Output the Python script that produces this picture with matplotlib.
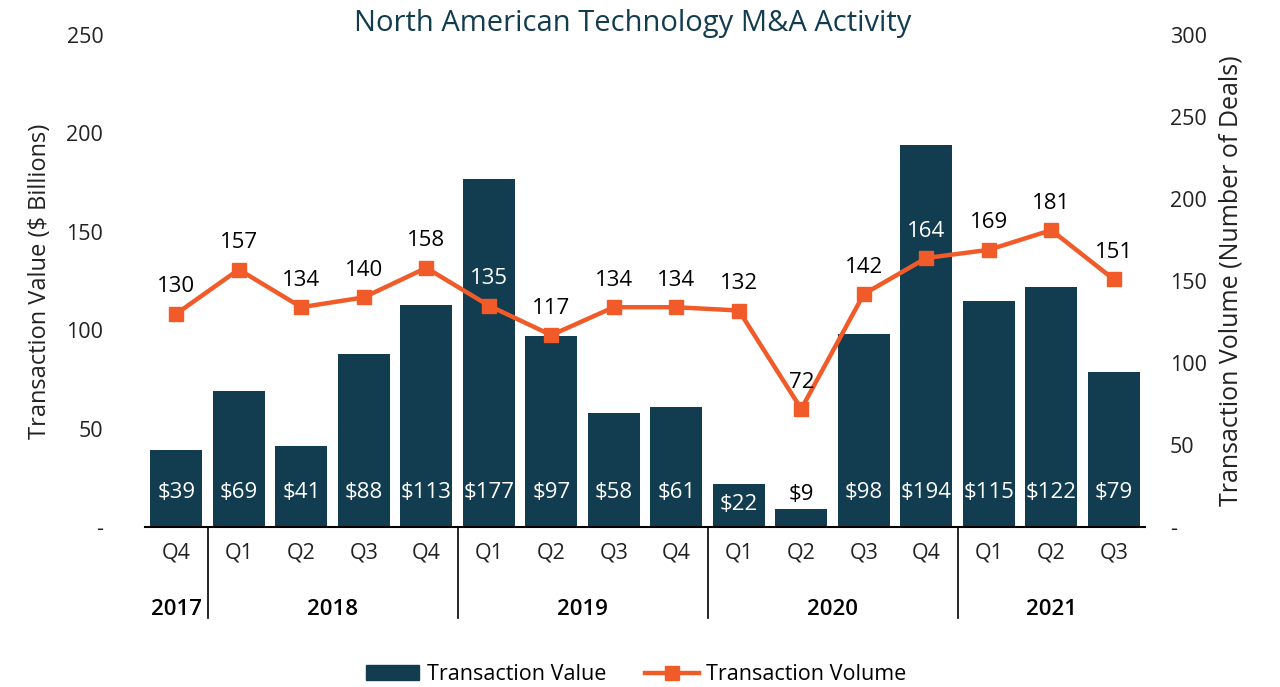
#!/usr/bin/env python3
"""Recreate the North American Technology M&A Activity combo chart."""

import matplotlib
matplotlib.use('Agg')
import matplotlib.pyplot as plt
import matplotlib.transforms as mtransforms
from matplotlib.patches import Patch
from matplotlib.lines import Line2D

plt.rcParams['font.family'] = ['Open Sans', 'DejaVu Sans']

# data
quarters = ['Q4', 'Q1', 'Q2', 'Q3', 'Q4', 'Q1', 'Q2', 'Q3', 'Q4',
            'Q1', 'Q2', 'Q3', 'Q4', 'Q1', 'Q2', 'Q3']
years = ['2017', '2018', '2019', '2020', '2021']
year_counts = [1, 4, 4, 4, 3]
deal_value = [39, 69, 41, 88, 113, 177, 97, 58, 61, 22, 9, 98, 194, 115, 122, 79]
deal_volume = [130, 157, 134, 140, 158, 135, 117, 134, 134, 132, 72, 142, 164, 169, 181, 151]

BAR_COLOR = '#123c4f'
LINE_COLOR = '#f15a29'
TEXT_COLOR = '#222222'

fig = plt.figure(figsize=(12.8, 6.87), dpi=100)
ax = fig.add_axes([0.1133, 0.2329, 0.78125, 0.7162])
ax2 = ax.twinx()

x = list(range(len(quarters)))
ax.bar(x, deal_value, width=0.83, color=BAR_COLOR, zorder=2)
ax.set_xlim(-0.5, len(quarters) - 0.5)
ax.set_ylim(0, 250)
ax.set_yticks(range(0, 251, 50))
ax.set_yticklabels(['-'] + [str(v) for v in range(50, 251, 50)])

ax2.plot(x, deal_volume, color=LINE_COLOR, lw=3.2, marker='s', ms=10, zorder=3)
ax2.set_ylim(0, 300)
ax2.set_yticks(range(0, 301, 50))
ax2.set_yticklabels(['-'] + [str(v) for v in range(50, 301, 50)])

# bar value labels (inside the bars, near the base)
for i, v in enumerate(deal_value):
    if v < 15:
        ax.text(i, v + 2, f'${v}', ha='center', va='bottom', fontsize=16,
                color='black', zorder=4)
    elif v < 30:
        ax.text(i, 11.5, f'${v}', ha='center', va='center', fontsize=16,
                color='white', zorder=4)
    else:
        ax.text(i, 17.5, f'${v}', ha='center', va='center', fontsize=16,
                color='white', zorder=4)

# volume labels above the markers
for i, v in enumerate(deal_volume):
    # labels that fall inside a tall bar are white
    inside = deal_value[i] / 250 * 300 > v + 22
    ax2.text(i, v + 10, str(v), ha='center', va='bottom', fontsize=16,
             color='white' if inside else 'black', zorder=5)

for a in (ax, ax2):
    for side in ('top', 'left', 'right', 'bottom'):
        a.spines[side].set_visible(False)
ax.spines['bottom'].set_visible(True)
ax.spines['bottom'].set_linewidth(1.5)
ax.spines['bottom'].set_color('black')

ax.tick_params(axis='y', length=0, pad=30, labelsize=15.5, labelcolor=TEXT_COLOR)
ax2.tick_params(axis='y', length=0, pad=18, labelsize=15.5, labelcolor=TEXT_COLOR)

# quarter labels
ax.set_xticks(x)
ax.set_xticklabels(quarters)
ax.tick_params(axis='x', length=0, pad=11, labelsize=15.5, labelcolor=TEXT_COLOR)

# year labels and separators
trans = mtransforms.blended_transform_factory(ax.transData, ax.transAxes)
start = 0
for yr, n in zip(years, year_counts):
    center = start + (n - 1) / 2
    ax.text(center, -0.168, yr, transform=trans, ha='center', va='center',
            fontsize=16, color='black', fontweight='semibold')
    if start > 0:
        ax.plot([start - 0.5, start - 0.5], [0, -0.185], transform=trans,
                color='black', lw=1.2, clip_on=False)
    start += n

ax.set_ylabel('Transaction Value ($ Billions)', fontsize=17, color=TEXT_COLOR,
              labelpad=10)
ax2.set_ylabel('Transaction Volume (Number of Deals)', fontsize=18,
               color=TEXT_COLOR, labelpad=8)

fig.text(0.494, 0.966, 'North American Technology M&A Activity', ha='center',
         va='center', fontsize=21, color='#133d4f')

handles = [Patch(color=BAR_COLOR),
           Line2D([0], [0], color=LINE_COLOR, lw=3.2, marker='s', ms=10)]
fig.legend(handles, ['Transaction Value', 'Transaction Volume'], loc='center',
           bbox_to_anchor=(0.497, 0.018), ncol=2, frameon=False, fontsize=15.5,
           handlelength=2.5, columnspacing=1.8, handletextpad=0.35)

fig.savefig('out.png', dpi=100)
